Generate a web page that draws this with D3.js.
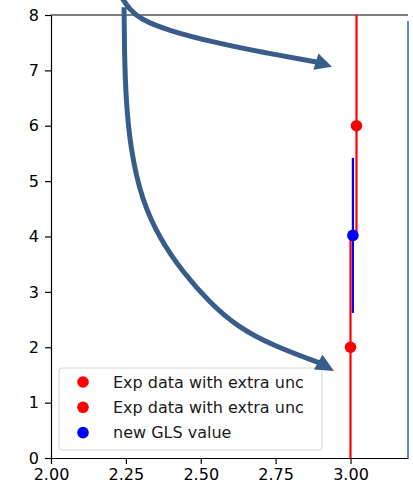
<!DOCTYPE html>
<html>
<head>
<meta charset="utf-8">
<script src="https://cdn.jsdelivr.net/npm/d3@7"></script>
<style>
  html, body { margin: 0; padding: 0; background: #fff; }
  svg { display: block; }
  text { font-family: "DejaVu Sans", sans-serif; }
</style>
</head>
<body>
<script>
// Measurements: x position, value, symmetric uncertainty
const seriesLabels = ["Exp data with extra unc", "Exp data with extra unc", "new GLS value"];
const seriesColors = ["red", "red", "blue"];
const pointX = [3.02, 3.00, 3.008];
const pointY = [6.0, 2.0, 4.02];
const pointErr = [2.0, 2.0, 1.4];

// Axis ticks
const xTicks = [2.00, 2.25, 2.50, 2.75, 3.00];
const yTicks = [0, 1, 2, 3, 4, 5, 6, 7, 8];

// Annotation arrows, in data units (shaft waypoints, then head tip)
const arrowUpper = [[2.237, 8.31], [2.262, 8.10], [2.300, 7.92], [2.387, 7.726], [2.554, 7.491], [2.721, 7.31], [2.891, 7.148]];
const arrowUpperTip = [2.938, 7.067];
const arrowLower = [[2.244, 8.141], [2.245, 7.365], [2.250, 6.462], [2.266, 5.560], [2.303, 4.657], [2.364, 3.95], [2.441, 3.35], [2.531, 2.80], [2.620, 2.38], [2.740, 2.03], [2.898, 1.715]];
const arrowLowerTip = [2.945, 1.570];
const frameTop = 7.89;

const W = 413, H = 484;
const svg = d3.select("body").append("svg").attr("width", W).attr("height", H);

const x = d3.scaleLinear().domain([2.0, 3.192]).range([51, 408]);
const y = d3.scaleLinear().domain([0, 8]).range([458, 15]);

const fontSize = 16;

// Axes
const xAxis = d3.axisBottom(x).tickValues(xTicks).tickFormat(d3.format(".2f"))
  .tickSizeInner(6).tickSizeOuter(0).tickPadding(5);
const yAxis = d3.axisLeft(y).tickValues(yTicks).tickFormat(d3.format("d"))
  .tickSizeInner(6).tickSizeOuter(0).tickPadding(6);

const gx = svg.append("g").attr("transform", `translate(0,${y(0)})`).call(xAxis);
const gy = svg.append("g").attr("transform", `translate(${x(2.0)},0)`).call(yAxis);
[gx, gy].forEach(g => {
  g.selectAll("path.domain").attr("stroke", "#000").attr("stroke-width", 1.2);
  g.selectAll(".tick line").attr("stroke", "#000").attr("stroke-width", 1.2);
  g.selectAll(".tick text").attr("fill", "#000").style("font-size", fontSize + "px")
    .style("font-family", "DejaVu Sans, sans-serif");
});
// top spine
svg.append("line")
  .attr("x1", x.range()[0]).attr("x2", x.range()[1])
  .attr("y1", y(8)).attr("y2", y(8))
  .attr("stroke", "#000").attr("stroke-width", 1.2);

// Plot clip
svg.append("clipPath").attr("id", "plotclip").append("rect")
  .attr("x", x.range()[0]).attr("y", y(8))
  .attr("width", x.range()[1] - x.range()[0]).attr("height", y(0) - y(8));

const plot = svg.append("g").attr("clip-path", "url(#plotclip)");
const idx = d3.range(pointX.length);

// error bars then markers
idx.forEach(i => {
  plot.append("line")
    .attr("x1", x(pointX[i])).attr("x2", x(pointX[i]))
    .attr("y1", y(pointY[i] - pointErr[i])).attr("y2", y(pointY[i] + pointErr[i]))
    .attr("stroke", seriesColors[i]).attr("stroke-width", 2.2);
  plot.append("circle")
    .attr("cx", x(pointX[i])).attr("cy", y(pointY[i])).attr("r", 5.8)
    .attr("fill", seriesColors[i]);
});

// Legend
const leg = svg.append("g");
leg.append("rect")
  .attr("x", 59).attr("y", 368).attr("width", 263).attr("height", 82).attr("rx", 3)
  .attr("fill", "#fff").attr("fill-opacity", 0.8)
  .attr("stroke", "#d4d4d4").attr("stroke-width", 1);
idx.forEach(i => {
  const cy = 382 + i * 25.3;
  leg.append("circle").attr("cx", 83).attr("cy", cy).attr("r", 5.8).attr("fill", seriesColors[i]);
  leg.append("text").attr("x", 113).attr("y", cy).attr("dy", "0.36em")
    .style("font-size", fontSize + "px").attr("fill", "#1a1a1a").text(seriesLabels[i]);
});

// Frame edge on the right
svg.append("line")
  .attr("x1", x.range()[1]).attr("x2", x.range()[1])
  .attr("y1", y(frameTop)).attr("y2", y(0))
  .attr("stroke", "#5b8bd0").attr("stroke-width", 2);

// Arrows
const arrowColor = "#385d8a";
const line = d3.line().x(d => x(d[0])).y(d => y(d[1])).curve(d3.curveBasis);
function drawArrow(pts, tip) {
  svg.append("path").attr("d", line(pts))
    .attr("fill", "none").attr("stroke", arrowColor).attr("stroke-width", 5);
  const b = pts[pts.length - 1];
  const bx = x(b[0]), by = y(b[1]), tx = x(tip[0]), ty = y(tip[1]);
  const len = Math.hypot(tx - bx, ty - by);
  const ux = (tx - bx) / len, uy = (ty - by) / len;
  const hw = 8.5, back = 2;
  const p1 = [bx - ux * back + uy * hw, by - uy * back - ux * hw];
  const p2 = [bx - ux * back - uy * hw, by - uy * back + ux * hw];
  svg.append("path").attr("d", `M${tx},${ty}L${p1[0]},${p1[1]}L${p2[0]},${p2[1]}Z`)
    .attr("fill", arrowColor);
}
drawArrow(arrowUpper, arrowUpperTip);
drawArrow(arrowLower, arrowLowerTip);
</script>
</body>
</html>
